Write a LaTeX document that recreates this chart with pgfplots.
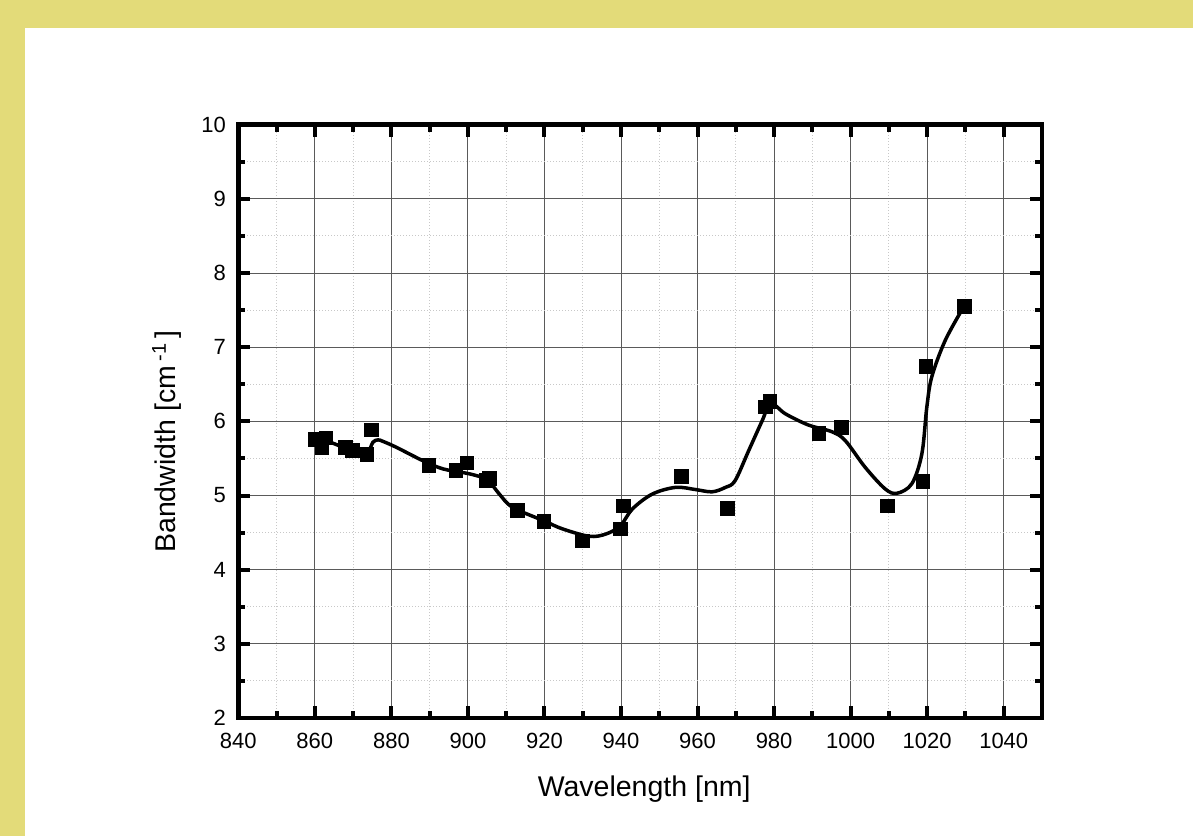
\documentclass[border=0pt]{standalone}
\usepackage{pgfplots}
\pgfplotsset{compat=1.18}
\usepackage{fontspec}
\setmainfont{Liberation Sans}
\definecolor{bgyellow}{RGB}{227,219,121}
\definecolor{majgrid}{RGB}{90,90,90}
\definecolor{mingrid}{RGB}{200,200,200}
\begin{document}
\begin{tikzpicture}[x=1pt,y=1pt]
\useasboundingbox (0,0) rectangle (1193,836);
\fill[bgyellow] (0,0) rectangle (1193,836);
\fill[white] (25,0) rectangle (1193,808);
\begin{axis}[
  at={(238.3pt,118pt)}, anchor=south west,
  scale only axis, width=803.7pt, height=593.3pt,
  xmin=840, xmax=1050, ymin=2, ymax=10,
  xtick={840,860,...,1040}, ytick={2,3,...,10},
  minor x tick num=1, minor y tick num=1,
  tick pos=both, tick align=inside,
  major tick length=12pt, minor tick length=7pt,
  every tick/.style={black, line width=4pt},
  axis line style={line width=4.5pt, line join=miter},
  grid=both,
  major grid style={majgrid, line width=1pt, solid},
  minor grid style={mingrid, line width=1pt, dotted},
  /pgf/number format/assume math mode=true,
  /pgf/number format/1000 sep={},
  tick label style={font=\fontsize{22}{24}\selectfont},
  yticklabel style={xshift=-9pt},
  xticklabel style={yshift=-12pt},
  label style={font=\fontsize{28.5}{32}\selectfont},
  xlabel={Wavelength [nm]},
  ylabel={Bandwidth [cm\,\textsuperscript{-1}\,]},
  xlabel style={at={(axis description cs:0.505,0)}, anchor=base, yshift=-78.7pt},
  ylabel style={at={(axis description cs:0,0.466)}, anchor=base, yshift=63.3pt},
  clip=false,
]
\addplot[black, line width=3.5pt, smooth, tension=0.55] coordinates {
(860,5.77) (863.9,5.72) (868,5.64) (871.7,5.59) (873.9,5.59) (875.2,5.72)
(876.5,5.75) (877.8,5.73) (881.3,5.65) (888.2,5.47) (893.4,5.36) (898.7,5.31)
(902.1,5.27) (905.2,5.21) (908.2,5.02) (911.7,4.84) (919.8,4.66) (924.7,4.55)
(931.7,4.45) (936.0,4.48) (939.8,4.59) (943.0,4.82) (948.2,5.02) (954.3,5.11)
(959.5,5.08) (963.8,5.05) (967.3,5.11) (969.8,5.20) (973.4,5.61) (976.9,6.01)
(979.1,6.24) (983.0,6.10) (989.0,5.95) (995.1,5.86) (998.6,5.74) (1003.8,5.38)
(1009.0,5.09) (1012.1,5.03) (1016.0,5.16) (1018.6,5.56) (1019.9,6.19)
(1021.2,6.60) (1024.7,7.09) (1029.6,7.55)
};
\addplot[only marks, mark=square*, mark size=6.8pt, black] coordinates {
(860,5.76) (862.8,5.78) (861.8,5.65) (868,5.65) (869.8,5.61) (873.5,5.56)
(874.8,5.89) (889.8,5.41) (896.8,5.34) (899.7,5.44) (904.6,5.21) (905.6,5.23)
(912.8,4.80) (919.8,4.65) (929.8,4.39) (939.8,4.55) (940.6,4.86) (955.7,5.26)
(967.7,4.83) (977.7,6.20) (978.8,6.27) (991.6,5.84) (997.6,5.92) (1009.6,4.86)
(1018.8,5.19) (1019.6,6.74) (1029.6,7.55)
};
\end{axis}
\end{tikzpicture}
\end{document}
